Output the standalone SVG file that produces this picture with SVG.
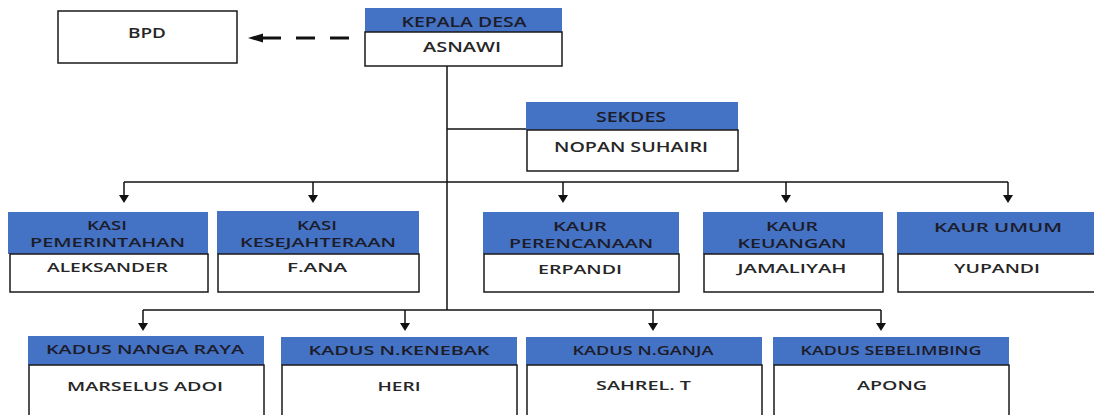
<svg xmlns="http://www.w3.org/2000/svg" width="1094" height="415" viewBox="0 0 1094 415">
<defs>
<style>
.hd{fill:#4472C4}
.bd{fill:#ffffff;stroke:#1a1a1a;stroke-width:1.5}
.ln{stroke:#111;stroke-width:1.5;fill:none}
.ah{fill:#111}
text{font-family:"Open Sans","Liberation Sans",sans-serif;text-anchor:middle;dominant-baseline:central;fill:#262626;font-weight:600}
.t1{font-size:14px}
.t2{font-size:13px}
.th{fill:#1c1c2a}
</style>
</defs>
<rect width="1094" height="415" fill="#ffffff"/>
<g id="connectors">
<line class="ln" x1="447" y1="66" x2="447" y2="310"/>
<line class="ln" x1="447" y1="129" x2="527" y2="129"/>
<line class="ln" x1="124" y1="182" x2="1008" y2="182"/>
<line class="ln" x1="124" y1="182" x2="124" y2="197"/>
<line class="ln" x1="313" y1="182" x2="313" y2="197"/>
<line class="ln" x1="563" y1="182" x2="563" y2="197"/>
<line class="ln" x1="786" y1="182" x2="786" y2="197"/>
<line class="ln" x1="1008" y1="182" x2="1008" y2="197"/>
<polygon class="ah" points="119,195 129,195 124,203"/>
<polygon class="ah" points="308,195 318,195 313,203"/>
<polygon class="ah" points="558,195 568,195 563,203"/>
<polygon class="ah" points="781,195 791,195 786,203"/>
<polygon class="ah" points="1003,195 1013,195 1008,203"/>
<line class="ln" x1="143" y1="310" x2="881" y2="310"/>
<line class="ln" x1="143" y1="310" x2="143" y2="325"/>
<line class="ln" x1="405" y1="310" x2="405" y2="325"/>
<line class="ln" x1="653" y1="310" x2="653" y2="325"/>
<line class="ln" x1="881" y1="310" x2="881" y2="325"/>
<polygon class="ah" points="138,323 148,323 143,331"/>
<polygon class="ah" points="400,323 410,323 405,331"/>
<polygon class="ah" points="648,323 658,323 653,331"/>
<polygon class="ah" points="876,323 886,323 881,331"/>
<line x1="349" y1="38" x2="262" y2="38" stroke="#111" stroke-width="3" stroke-dasharray="19 15"/>
<polygon class="ah" points="248,38 263,33.5 263,42.5"/>
</g>
<g id="bpd">
<rect class="bd" x="58" y="11" width="179" height="52"/>
<text class="t1" x="147" y="32" textLength="38" lengthAdjust="spacingAndGlyphs">BPD</text>
</g>
<g id="kepala-desa">
<rect class="hd" x="365" y="8" width="197" height="24"/>
<rect class="bd" x="365" y="32" width="197" height="34"/>
<text class="t1 th" x="464" y="21" textLength="125" lengthAdjust="spacingAndGlyphs">KEPALA DESA</text>
<text class="t1" x="462" y="46" textLength="78" lengthAdjust="spacingAndGlyphs">ASNAWI</text>
</g>
<g id="sekdes">
<rect class="hd" x="526" y="102" width="212" height="28"/>
<rect class="bd" x="527" y="130" width="211" height="41"/>
<text class="t1 th" x="631" y="116" textLength="70" lengthAdjust="spacingAndGlyphs">SEKDES</text>
<text class="t1" x="631" y="146" textLength="154" lengthAdjust="spacingAndGlyphs">NOPAN SUHAIRI</text>
</g>
<g id="kasi-pemerintahan">
<rect class="hd" x="8" y="212" width="200" height="42"/>
<rect class="bd" x="10" y="254" width="198" height="38"/>
<text class="t2 th" x="107" y="225" textLength="40" lengthAdjust="spacingAndGlyphs">KASI</text>
<text class="t2 th" x="107.5" y="242" textLength="155" lengthAdjust="spacingAndGlyphs">PEMERINTAHAN</text>
<text class="t2" x="107.5" y="267" textLength="121" lengthAdjust="spacingAndGlyphs">ALEKSANDER</text>
</g>
<g id="kasi-kesejahteraan">
<rect class="hd" x="217" y="211" width="202" height="43"/>
<rect class="bd" x="218" y="254" width="201" height="38"/>
<text class="t2 th" x="317" y="225" textLength="40" lengthAdjust="spacingAndGlyphs">KASI</text>
<text class="t2 th" x="318" y="242" textLength="156" lengthAdjust="spacingAndGlyphs">KESEJAHTERAAN</text>
<text class="t2" x="317" y="267" textLength="60" lengthAdjust="spacingAndGlyphs">F.ANA</text>
</g>
<g id="kaur-perencanaan">
<rect class="hd" x="483" y="212" width="196" height="42"/>
<rect class="bd" x="484" y="254" width="195" height="38"/>
<text class="t2 th" x="580" y="226" textLength="54" lengthAdjust="spacingAndGlyphs">KAUR</text>
<text class="t2 th" x="581" y="243" textLength="144" lengthAdjust="spacingAndGlyphs">PERENCANAAN</text>
<text class="t2" x="580" y="269" textLength="84" lengthAdjust="spacingAndGlyphs">ERPANDI</text>
</g>
<g id="kaur-keuangan">
<rect class="hd" x="703" y="212" width="180" height="42"/>
<rect class="bd" x="704" y="254" width="179" height="38"/>
<text class="t2 th" x="792" y="226" textLength="52" lengthAdjust="spacingAndGlyphs">KAUR</text>
<text class="t2 th" x="792" y="243" textLength="109" lengthAdjust="spacingAndGlyphs">KEUANGAN</text>
<text class="t2" x="792" y="268" textLength="109" lengthAdjust="spacingAndGlyphs">JAMALIYAH</text>
</g>
<g id="kaur-umum">
<rect class="hd" x="897" y="212" width="200" height="42"/>
<rect class="bd" x="898" y="254" width="200" height="38"/>
<text class="t2 th" x="998" y="227" textLength="128" lengthAdjust="spacingAndGlyphs">KAUR UMUM</text>
<text class="t2" x="997" y="268" textLength="86" lengthAdjust="spacingAndGlyphs">YUPANDI</text>
</g>
<g id="kadus-nanga-raya">
<rect class="hd" x="28" y="336" width="236" height="29"/>
<rect class="bd" x="29" y="365" width="235" height="60"/>
<text class="t2 th" x="145" y="349" textLength="198" lengthAdjust="spacingAndGlyphs">KADUS NANGA RAYA</text>
<text class="t2" x="145" y="386" textLength="156" lengthAdjust="spacingAndGlyphs">MARSELUS ADOI</text>
</g>
<g id="kadus-n-kenebak">
<rect class="hd" x="281" y="337" width="236" height="28"/>
<rect class="bd" x="282" y="365" width="235" height="60"/>
<text class="t2 th" x="399" y="350" textLength="181" lengthAdjust="spacingAndGlyphs">KADUS N.KENEBAK</text>
<text class="t2" x="399" y="386" textLength="43" lengthAdjust="spacingAndGlyphs">HERI</text>
</g>
<g id="kadus-n-ganja">
<rect class="hd" x="526" y="337" width="236" height="28"/>
<rect class="bd" x="527" y="365" width="235" height="60"/>
<text class="t2 th" x="643" y="350" textLength="141" lengthAdjust="spacingAndGlyphs" font-size="12">KADUS N.GANJA</text>
<text class="t2" x="643.5" y="385" textLength="95" lengthAdjust="spacingAndGlyphs">SAHREL. T</text>
</g>
<g id="kadus-sebelimbing">
<rect class="hd" x="773" y="337" width="236" height="28"/>
<rect class="bd" x="774" y="365" width="235" height="60"/>
<text class="t2 th" x="891" y="350" textLength="181" lengthAdjust="spacingAndGlyphs" font-size="12">KADUS SEBELIMBING</text>
<text class="t2" x="892" y="385" textLength="70" lengthAdjust="spacingAndGlyphs">APONG</text>
</g>
</svg>
